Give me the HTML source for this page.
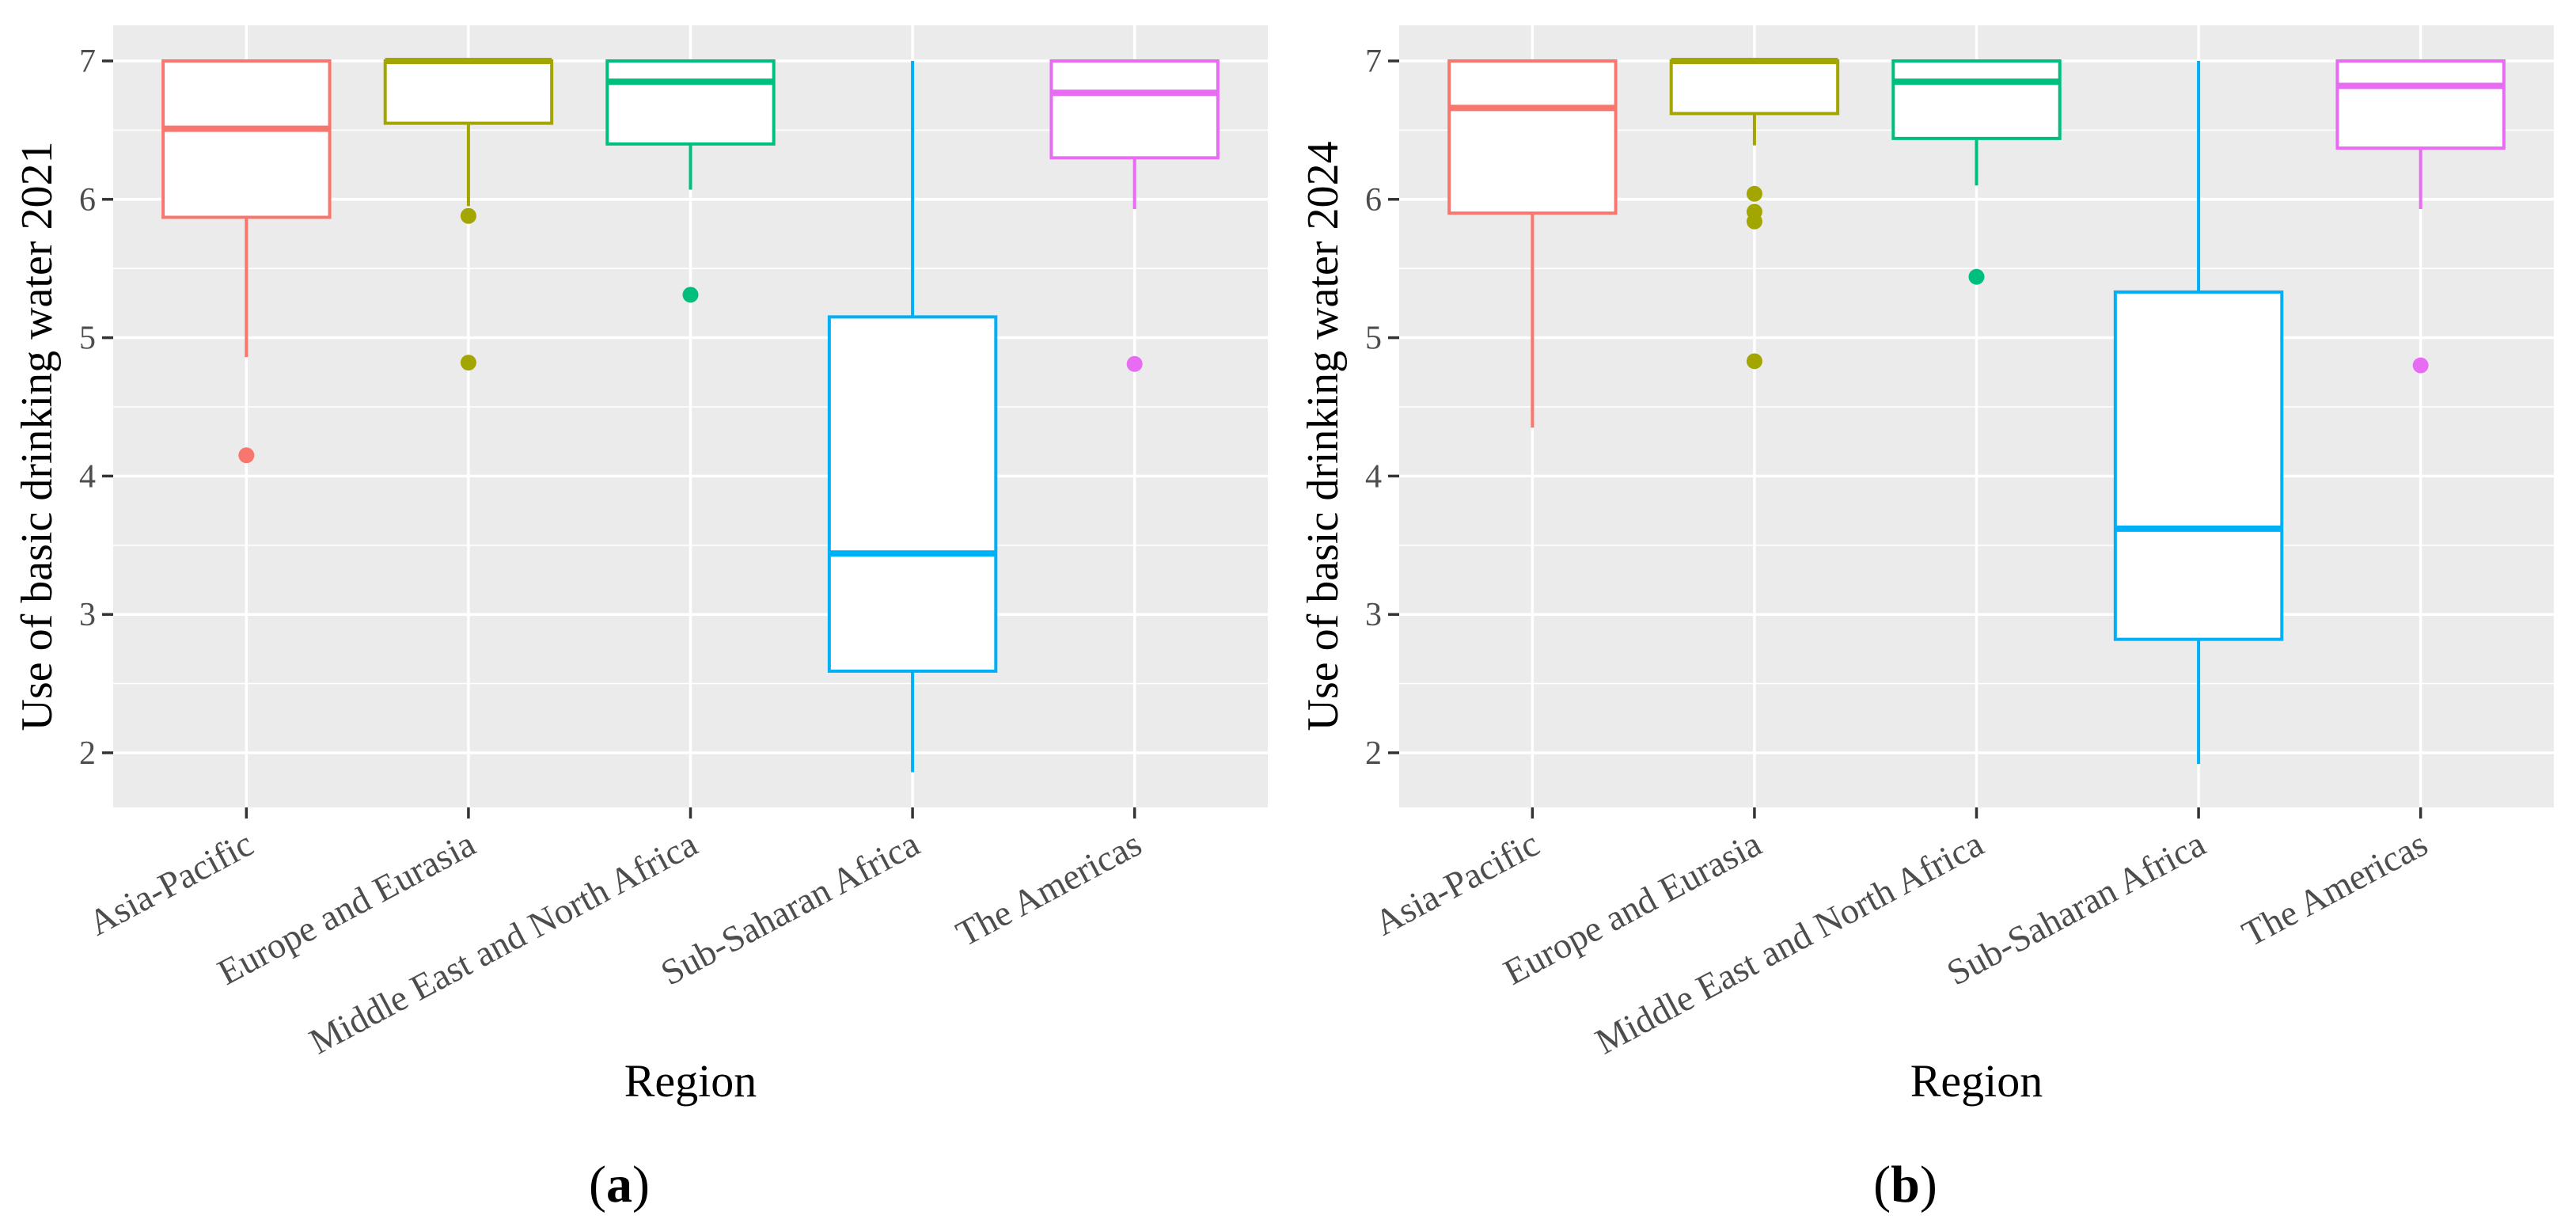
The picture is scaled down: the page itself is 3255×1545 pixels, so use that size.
<!DOCTYPE html>
<html><head><meta charset="utf-8"><style>
html,body{margin:0;padding:0;background:#fff;}
svg{display:block;font-family:"Liberation Serif",serif;}
</style></head><body>
<svg id="chart" width="3255" height="1545" viewBox="0 0 3255 1545" xmlns="http://www.w3.org/2000/svg"></svg>
<script>
const categories = ["Asia-Pacific","Europe and Eurasia","Middle East and North Africa","Sub-Saharan Africa","The Americas"];
const colors = ["#F8766D","#A3A500","#00BF7D","#00B0F6","#E76BF3"];
const yTicks = [2,3,4,5,6,7];
// panel a (2021): [lowerWhisker, Q1, median, Q3, upperWhisker]
const stats2021 = [[4.86,5.87,6.51,7,7],[5.95,6.55,7,7,7],[6.07,6.40,6.85,7,7],[1.86,2.59,3.44,5.15,7],[5.93,6.30,6.77,7,7]];
const outliers2021 = [[4.15],[5.88,4.82],[5.31],[],[4.81]];
// panel b (2024)
const stats2024 = [[4.35,5.90,6.66,7,7],[6.39,6.62,7,7,7],[6.10,6.44,6.85,7,7],[1.92,2.82,3.62,5.33,7],[5.93,6.37,6.82,7,7]];
const outliers2024 = [[],[6.04,5.91,5.84,4.83],[5.44],[],[4.80]];

const svg = document.getElementById('chart');
const NS = "http://www.w3.org/2000/svg";
function mk(tag, attrs, parent){const e=document.createElementNS(NS,tag);for(const k in attrs)e.setAttribute(k,attrs[k]);(parent||svg).appendChild(e);return e;}

function panel(px, stats, outs, ytitle, label, key){
  const g = mk('g',{});
  
  
  const top=32, bot=1020, w=1459;
  const yv = v => 77 + (7 - v) * 174.8;
  const step = w/5.2;
  const xc = i => px + (i + 0.6) * step;
  const bg = mk('rect',{x:px,y:top,width:w,height:bot-top,fill:'#EBEBEB'},g);
  
  
  for(let t=1.5;t<=7.25;t+=0.5){ if(yv(t)<top||yv(t)>bot) continue;
    const major = Number.isInteger(t);
    const l = mk('line',{x1:px,x2:px+w,y1:yv(t),y2:yv(t),stroke:'#fff','stroke-width':major?3.5:1.6},g);
    
    
  }
  categories.forEach((c,i)=>{
    const l = mk('line',{x1:xc(i),x2:xc(i),y1:top,y2:bot,stroke:'#fff','stroke-width':3.5},g);
    
    
  });
  yTicks.forEach(t=>{
    const tk = mk('line',{x1:px-14,x2:px,y1:yv(t),y2:yv(t),stroke:'#333','stroke-width':3.5},g);
    
    
    const tx = mk('text',{x:px-22,y:yv(t)+14,'text-anchor':'end','font-size':42,fill:'#4D4D4D'},g);
    tx.textContent = t;
    
    
  });
  stats.forEach((s,i)=>{
    const x=xc(i), hw=step*0.375, col=colors[i];
    const bx = mk('g',{},g);
    
    
    mk('line',{x1:x,x2:x,y1:yv(s[0]),y2:yv(s[1]),stroke:col,'stroke-width':4},bx);
    mk('line',{x1:x,x2:x,y1:yv(s[3]),y2:yv(s[4]),stroke:col,'stroke-width':4},bx);
    mk('rect',{x:x-hw,y:yv(s[3]),width:2*hw,height:yv(s[1])-yv(s[3]),fill:'#fff',stroke:col,'stroke-width':4},bx);
    mk('line',{x1:x-hw,x2:x+hw,y1:yv(s[2]),y2:yv(s[2]),stroke:col,'stroke-width':8},bx);
    outs[i].forEach(o=>{
      const c = mk('circle',{cx:x,cy:yv(o),r:10,fill:col},g);
      
      
    });
    const tk = mk('line',{x1:x,x2:x,y1:bot,y2:bot+14,stroke:'#333','stroke-width':3.5},g);
    
    
    const tx = mk('text',{x:0,y:0,'text-anchor':'end','font-size':46,fill:'#4D4D4D',transform:`translate(${x+12},${bot+56}) rotate(-28)`},g);
    tx.textContent = categories[i];
    
    
  });
  const yt = mk('text',{x:0,y:0,'text-anchor':'middle','font-size':56,fill:'#000',transform:`translate(${px-78},${(top+bot)/2+25}) rotate(-90)`},g);
  yt.textContent = ytitle;
  
  
  const xt = mk('text',{x:px+w/2,y:1385,'text-anchor':'middle','font-size':58,fill:'#000'},g);
  xt.textContent = 'Region';
  
  
  const cap = mk('text',{x:px+w/2-90,y:1518,'text-anchor':'middle','font-size':66,fill:'#000'},g);
  cap.innerHTML = '(<tspan font-weight="bold">'+label+'</tspan>)';
  
  
}
panel(143, stats2021, outliers2021, 'Use of basic drinking water 2021', 'a', 'a');
panel(1768, stats2024, outliers2024, 'Use of basic drinking water 2024', 'b', 'b');
</script>
</body></html>
